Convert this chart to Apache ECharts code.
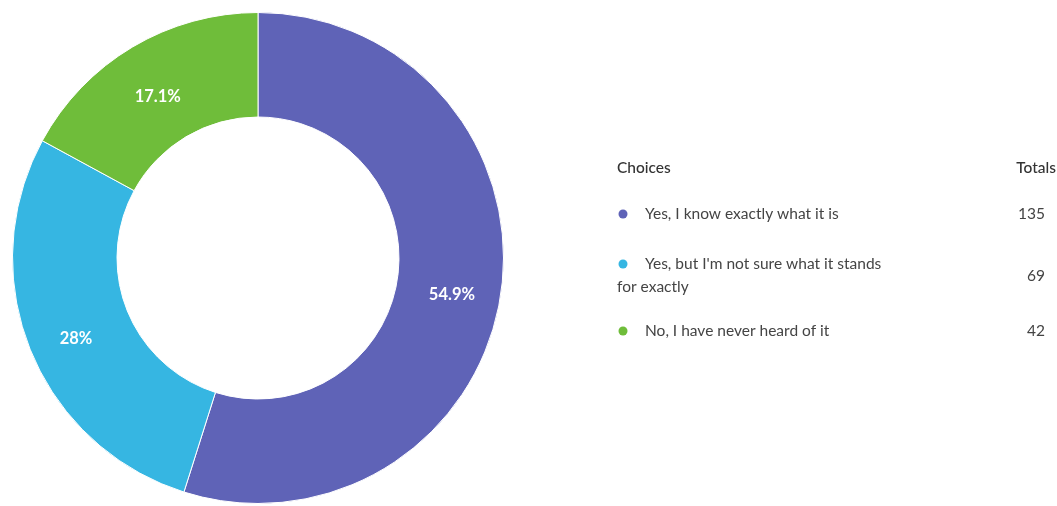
<!DOCTYPE html>
<html>
<head>
<meta charset="utf-8">
<script src="https://cdn.jsdelivr.net/npm/echarts@6/dist/echarts.min.js"></script>
<style>
  html, body { margin: 0; padding: 0; background: #fff; }
  #chart { width: 1057px; height: 506px; }
</style>
</head>
<body>
<div id="chart"></div>
<script>
// Survey answers and their counts
const choices = [
  'Yes, I know exactly what it is',
  "Yes, but I'm not sure what it stands\nfor exactly",
  'No, I have never heard of it'
];
const totals = [135, 69, 42];
const colors = ['#5f63b7', '#36b6e2', '#6fbd3a'];
const tableHeaders = ['Choices', 'Totals'];

const grand = totals.reduce((a, b) => a + b, 0);
const pct = v => {
  const p = Math.round(v / grand * 1000) / 10;
  return (Number.isInteger(p) ? p.toFixed(0) : p.toFixed(1)) + '%';
};

// Right-hand table: header row plus one row per choice
const font = 'Lato, "Open Sans", sans-serif';
const rowY = [214, 264, 331];
const lineH = 23;
const graphics = [
  { type: 'text', x: 617, y: 168, style: { text: tableHeaders[0], font: '500 15.5px ' + font, fill: '#333', textVerticalAlign: 'middle' } },
  { type: 'text', x: 1056, y: 168, style: { text: tableHeaders[1], font: '500 15.5px ' + font, fill: '#333', textAlign: 'right', textVerticalAlign: 'middle' } }
];
choices.forEach((label, i) => {
  const lines = label.split('\n');
  const y = rowY[i];
  graphics.push({ type: 'circle', shape: { cx: 623, cy: y, r: 4.5 }, style: { fill: colors[i] } });
  lines.forEach((ln, j) => {
    graphics.push({
      type: 'text', x: j === 0 ? 645 : 617, y: y + j * lineH,
      style: { text: ln, font: '15.5px ' + font, fill: '#444', textVerticalAlign: 'middle' }
    });
  });
  const midY = y + (lines.length - 1) * lineH / 2;
  graphics.push({
    type: 'text', x: 1045, y: midY,
    style: { text: String(totals[i]), font: '15.5px ' + font, fill: '#444', textAlign: 'right', textVerticalAlign: 'middle' }
  });
});

const chart = echarts.init(document.getElementById('chart'), null, { renderer: 'canvas' });
chart.setOption({
  animation: false,
  graphic: graphics,
  series: [{
    type: 'pie',
    center: [258, 258],
    radius: [141, 245.5],
    startAngle: 90,
    clockwise: true,
    avoidLabelOverlap: false,
    itemStyle: { borderColor: '#fff', borderWidth: 1 },
    label: {
      show: true,
      position: 'inside',
      color: '#fff',
      fontFamily: font,
      fontWeight: 'bold',
      fontSize: 16.5,
      formatter: p => pct(p.value)
    },
    labelLayout: { dy: 7 },
    labelLine: { show: false },
    emphasis: { disabled: true },
    data: choices.map((c, i) => ({ name: c, value: totals[i], itemStyle: { color: colors[i] } }))
  }]
});
</script>
</body>
</html>
